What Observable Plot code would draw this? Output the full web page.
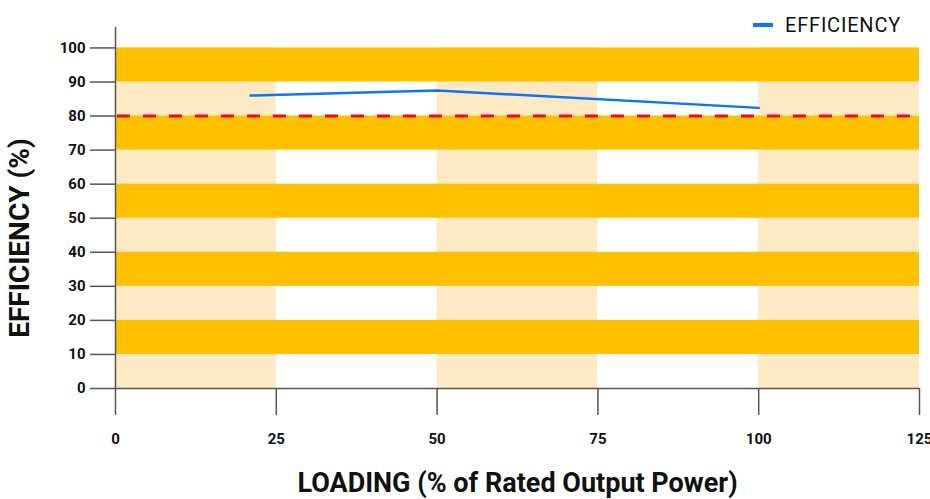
<!DOCTYPE html>
<html>
<head>
<meta charset="utf-8">
<script src="https://cdn.jsdelivr.net/npm/d3@7"></script>
<script src="https://cdn.jsdelivr.net/npm/@observablehq/plot@0.6"></script>
<style>
  html, body { margin: 0; padding: 0; background: #fff; }
  #wrap { position: relative; width: 930px; height: 499px; font-family: Roboto, "Noto Sans", sans-serif; }
  #legend { position: absolute; left: 753px; top: 13px; display: flex; align-items: center; font-size: 20px; color: #111; letter-spacing: 0.8px; }
  #legend .sw { width: 20px; height: 4px; background: #0f74f2; margin-right: 12px; }
</style>
</head>
<body>
<div id="wrap">
  <div id="legend"><span class="sw"></span><span>EFFICIENCY</span></div>
</div>
<script>
// Data
const loading = [21, 50, 100];
const efficiency = [86, 87.5, 82.4];
const threshold = 80;
const xTicks = [0, 25, 50, 75, 100, 125];
const yTicks = [0, 10, 20, 30, 40, 50, 60, 70, 80, 90, 100];
const vBands = [[0, 25], [50, 75], [100, 125]];
const hBands = [[10, 20], [30, 40], [50, 60], [70, 80], [90, 100]];
const xTitle = "LOADING (% of Rated Output Power)";
const yTitle = "EFFICIENCY (%)";

const series = loading.map((x, i) => ({x, y: efficiency[i]}));

const chart = Plot.plot({
  width: 930,
  height: 499,
  marginLeft: 115,
  marginRight: 11,
  marginTop: 27,
  marginBottom: 111,
  style: {fontFamily: "Roboto, 'Noto Sans', sans-serif", background: "transparent", overflow: "visible"},
  x: {domain: [0, 125]},
  y: {domain: [0, 106]},
  marks: [
    Plot.rect(vBands, {x1: d => d[0], x2: d => d[1], y1: 0, y2: 100, fill: "#fdeac4"}),
    Plot.rect(hBands, {x1: 0, x2: 125, y1: d => d[0], y2: d => d[1], fill: "#ffc000"}),
    Plot.ruleY([threshold], {x1: 0.3, x2: 125, stroke: "#ea0a0a", strokeWidth: 3, strokeDasharray: "13,13"}),
    Plot.line(series, {x: "x", y: "y", stroke: "#0f74f2", strokeWidth: 2.5}),
    Plot.ruleY([0], {x1: 0, x2: 125, stroke: "#555", strokeWidth: 1.5}),
    Plot.ruleX([0], {y1: 0, y2: 106, stroke: "#555", strokeWidth: 1.5}),
    Plot.axisY({ticks: yTicks, tickSize: 25, tickPadding: 5, stroke: "#555", strokeWidth: 1.5, fill: "#111", fontSize: 15, fontWeight: "bold", label: null, tickFormat: d => d}),
    Plot.axisX({ticks: xTicks, tickSize: 27, tickPadding: 18, stroke: "#555", strokeWidth: 1.5, fill: "#111", fontSize: 15, fontWeight: "bold", label: null, tickFormat: d => d}),
    Plot.text([xTitle], {frameAnchor: "bottom", dy: 103, lineAnchor: "bottom", fontSize: 27, fontWeight: "bold", fill: "#111"}),
    Plot.text([yTitle], {frameAnchor: "left", textAnchor: "middle", dx: -95, dy: 30, rotate: -90, fontSize: 28, fontWeight: "bold", fill: "#111"})
  ]
});
document.getElementById("wrap").prepend(chart);
</script>
</body>
</html>
